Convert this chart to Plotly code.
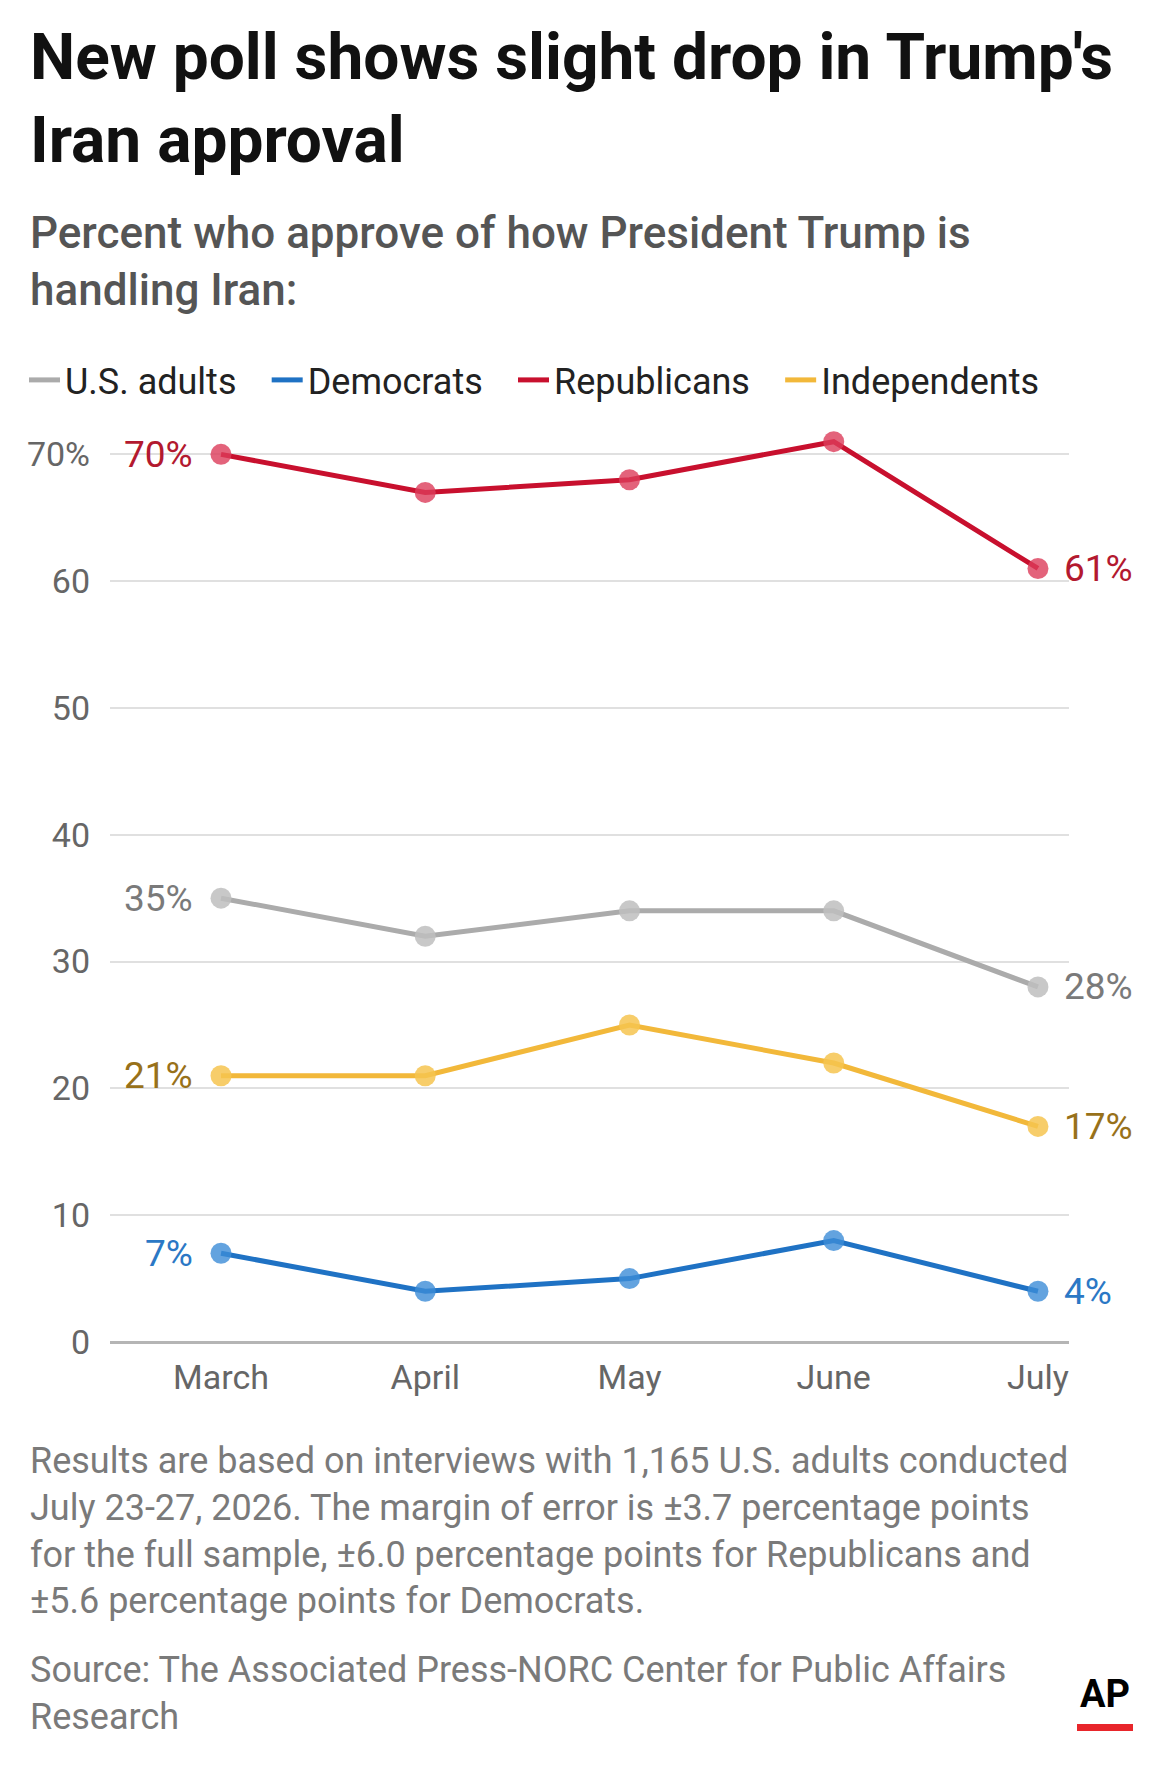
import plotly.graph_objects as go

# chart data
months = ['March', 'April', 'May', 'June', 'July']
us_adults = [35, 32, 34, 34, 28]
democrats = [7, 4, 5, 8, 4]
republicans = [70, 67, 68, 71, 61]
independents = [21, 21, 25, 22, 17]

series_names = ['U.S. adults', 'Democrats', 'Republicans', 'Independents']
y_tickvals = [0, 10, 20, 30, 40, 50, 60, 70]
y_ticktext = ['0', '10', '20', '30', '40', '50', '60', '70%']

title_text = "New poll shows slight drop in Trump's<br>Iran approval"
subtitle_text = "Percent who approve of how President Trump is<br>handling Iran:"
note_text = ("Results are based on interviews with 1,165 U.S. adults conducted<br>"
             "July 23-27, 2026. The margin of error is ±3.7 percentage points<br>"
             "for the full sample, ±6.0 percentage points for Republicans and<br>"
             "±5.6 percentage points for Democrats.")
source_text = "Source: The Associated Press-NORC Center for Public Affairs<br>Research"

FONT = 'Roboto, Arial, sans-serif'
W, H = 1160, 1765
M_LEFT, M_RIGHT, M_TOP, M_BOTTOM = 110, 91, 429, 423
PLOT_W = W - M_LEFT - M_RIGHT
PLOT_H = H - M_TOP - M_BOTTOM


def px_x(px):
    # page pixel -> paper x
    return (px - M_LEFT) / PLOT_W


def px_y(py):
    # page pixel -> paper y
    return (H - M_BOTTOM - py) / PLOT_H


styles = {
    'U.S. adults': dict(line='#ababab', marker='rgba(190,190,190,0.85)', label='#7a7a7a'),
    'Democrats': dict(line='#1f72c4', marker='rgba(60,140,215,0.8)', label='#2b78c5'),
    'Republicans': dict(line='#c8102e', marker='rgba(220,60,90,0.8)', label='#b3192f'),
    'Independents': dict(line='#f2b83a', marker='rgba(246,196,80,0.85)', label='#98711a'),
}
values = {
    'U.S. adults': us_adults,
    'Democrats': democrats,
    'Republicans': republicans,
    'Independents': independents,
}

fig = go.Figure()

# the lines themselves
for name in ['U.S. adults', 'Independents', 'Democrats', 'Republicans']:
    st = styles[name]
    fig.add_trace(go.Scatter(
        x=months, y=values[name], mode='lines+markers', name=name,
        line=dict(color=st['line'], width=5),
        marker=dict(color=st['marker'], size=21, line=dict(width=0)),
        showlegend=False, hoverinfo='skip'
    ))

# legend-only entries (short dashes, no markers)
gap = '\u00a0\u00a0\u2009'
for name in series_names:
    fig.add_trace(go.Scatter(
        x=[None], y=[None], mode='lines', name=name + gap,
        line=dict(color=styles[name]['line'], width=5)
    ))

# first / last value labels
for name in series_names:
    vals = values[name]
    col = styles[name]['label']
    fig.add_annotation(x=months[0], y=vals[0], text=f"{vals[0]}%", showarrow=False,
                       xanchor='right', xshift=-26, font=dict(size=37, color=col, family=FONT))
    fig.add_annotation(x=months[-1], y=vals[-1], text=f"{vals[-1]}%", showarrow=False,
                       xanchor='left', xshift=24, font=dict(size=37, color=col, family=FONT))

# header texts
fig.add_annotation(text=title_text, xref='paper', yref='paper', x=px_x(28), xanchor='left',
                   y=px_y(18), yanchor='top', align='left', showarrow=False,
                   font=dict(size=64, color='#111', family=FONT, weight=700))
fig.add_annotation(text=subtitle_text, xref='paper', yref='paper', x=px_x(28), xanchor='left',
                   y=px_y(205), yanchor='top', align='left', showarrow=False,
                   font=dict(size=44, color='#555', family=FONT, weight=500))

# footer texts
fig.add_annotation(text=note_text, xref='paper', yref='paper', x=px_x(28), xanchor='left',
                   y=px_y(1438), yanchor='top', align='left', showarrow=False,
                   font=dict(size=36, color='#7a7a7a', family=FONT))
fig.add_annotation(text=source_text, xref='paper', yref='paper', x=px_x(28), xanchor='left',
                   y=px_y(1647), yanchor='top', align='left', showarrow=False,
                   font=dict(size=36, color='#7a7a7a', family=FONT))
fig.add_annotation(text='<b>AP</b>', xref='paper', yref='paper', x=px_x(1105), xanchor='center',
                   y=px_y(1694), yanchor='middle', showarrow=False,
                   font=dict(size=38, color='#000', family=FONT))
fig.add_shape(type='rect', xref='paper', yref='paper', x0=px_x(1077), x1=px_x(1133),
              y0=px_y(1731), y1=px_y(1724),
              fillcolor='#e8262b', line=dict(width=0))

fig.update_layout(
    width=W, height=H,
    margin=dict(l=M_LEFT, r=M_RIGHT, t=M_TOP, b=M_BOTTOM, autoexpand=False),
    paper_bgcolor='white', plot_bgcolor='white',
    font=dict(family=FONT, size=34, color='#666'),
    showlegend=True,
    legend=dict(orientation='h', xref='paper', yref='paper',
                x=px_x(24), xanchor='left', y=px_y(380), yanchor='middle',
                font=dict(size=36, color='#222', family=FONT),
                itemwidth=31, tracegroupgap=0, bgcolor='rgba(0,0,0,0)'),
    xaxis=dict(type='category', range=[-0.5435, 4.152], showgrid=False, showline=False,
               ticks='', ticklabelstandoff=12, tickfont=dict(size=34, color='#666'),
               fixedrange=True),
    yaxis=dict(range=[0, 72], tickvals=y_tickvals, ticktext=y_ticktext,
               showgrid=True, gridcolor='#e0e0e0', gridwidth=2,
               zeroline=True, zerolinecolor='#b5b5b5', zerolinewidth=3,
               ticks='', ticklabelstandoff=19, tickfont=dict(size=34, color='#666'),
               fixedrange=True),
)

# page body has a default 8px margin; drop it so the figure sits at the origin
fig.write_html("out.html", config={'displayModeBar': False},
               post_script="document.body.style.margin='0';")
